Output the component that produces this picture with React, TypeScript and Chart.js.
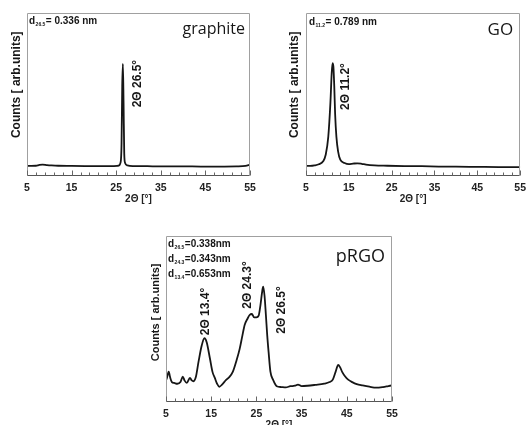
import React, { useEffect, useRef } from "react";
import { Chart, registerables } from "chart.js";
Chart.register(...registerables);

// ---------- data ----------
const xTicks = [5, 15, 25, 35, 45, 55];
const xMinorStep = 2;

const graphiteX = [5, 6, 7, 7.8, 8.5, 9.5, 10.5, 12, 15, 18, 21, 24, 25.5, 26.0, 26.2, 26.35, 26.5, 26.65, 26.8, 27.0, 27.5, 29, 32, 36, 40, 44, 48, 52, 54, 55];
const graphiteY = [6.3, 6.2, 6.3, 6.8, 7.0, 6.7, 6.5, 6.3, 6.2, 6.1, 6.0, 6.0, 6.3, 8.5, 20, 55, 68.7, 45, 14, 8, 6.5, 6.1, 6.0, 5.9, 5.9, 5.8, 5.8, 5.9, 6.2, 7.0];

const goX = [5, 6, 7, 8, 9, 9.6, 10.2, 10.7, 11.0, 11.2, 11.4, 11.6, 11.8, 12.1, 12.5, 13, 14, 15, 16, 17, 18, 19, 21, 24, 28, 32, 36, 40, 45, 50, 55];
const goY = [6.2, 6.2, 6.5, 7.2, 9, 13, 24, 45, 63, 69.3, 67, 55, 38, 24, 15, 10, 8, 7.3, 7.6, 7.8, 7.5, 7.0, 6.5, 6.3, 6.1, 6.0, 5.8, 5.7, 5.6, 5.5, 5.5];

const prgoX = [5.0, 5.2, 5.6, 5.9, 6.3, 6.8, 7.5, 8.2, 8.7, 9.1, 9.6, 10.3, 10.7, 11.1, 11.6, 12.2, 12.9, 13.5, 14.0, 14.7, 15.3, 15.8, 16.3, 16.8, 17.4, 18.3, 19.0, 19.8, 20.6, 21.3, 21.9, 22.4, 23.0, 23.5, 24.0, 24.5, 25.0, 25.5, 25.9, 26.3, 26.5, 26.8, 27.1, 27.4, 27.7, 28.1, 28.7, 29.5, 30.5, 31.5, 32.5, 33.5, 34.2, 35, 36.3, 38, 40, 41.2, 41.9, 42.5, 43.1, 43.5, 44.0, 44.6, 45.3, 46.2, 47.2, 48.5, 50, 51.5, 53, 54.2, 55];
const prgoY = [13, 14.5, 18.3, 15, 12, 11.5, 11, 12, 15.3, 13, 11.5, 14.5, 13, 12.5, 15, 24.3, 34, 38.4, 36, 26.5, 18, 14.5, 11, 9.2, 10.5, 13.3, 15, 18.3, 25, 32, 40, 46.4, 50, 52.4, 53, 51, 51, 52, 58.4, 67, 69.5, 64, 52.4, 40, 30, 18.3, 13.3, 9.5, 9, 8.8, 9.5, 9.8, 10.5, 9.6, 9.8, 10.3, 11, 12, 13.5, 18, 22.3, 21, 18, 15.5, 13.5, 12, 10.8, 10, 9.2, 8.6, 9, 9.6, 10];

const graphitePeaks = [{ text: "2Θ 26.5°", x: 29.9, y: 56.7 }];
const goPeaks = [{ text: "2Θ 11.2°", x: 14.3, y: 54.9 }];
const prgoPeaks = [
  { text: "2Θ 13.4°", x: 13.8, y: 54.5 },
  { text: "2Θ 24.3°", x: 23.1, y: 70.5 },
  { text: "2Θ 26.5°", x: 30.7, y: 55.4 },
];

const graphiteD = [{ sub: "26.5", val: "= 0.336 nm" }];
const goD = [{ sub: "11.2", val: "= 0.789 nm" }];
const prgoD = [
  { sub: "26.5", val: "=0.338nm" },
  { sub: "24.3", val: "=0.343nm" },
  { sub: "13.4", val: "=0.653nm" },
];

const yTitleText = "Counts [ arb.units]";
const xTitleText = "2Θ [°]";

// ---------- styling ----------
const ARIAL = '"Liberation Sans", Arial, sans-serif';
const SANS = '"Open Sans", "Noto Sans", sans-serif';
const INK = "#161616";

interface PanelCfg {
  id: string;
  left: number; top: number; width: number; height: number;
  pad: { top: number; right: number; left: number; bottom: number };
  yW: number; xH: number; xTitlePad: number;
  xs: number[]; ys: number[];
  name: string; nameSize: number; nameDx: number; nameDy: number;
  dLines: { sub: string; val: string }[]; dDx: number; dDy: number; dStep: number;
  peaks: { text: string; x: number; y: number }[];
  yTitleDx: number; yTitleFrac: number; yTitleSize: number;
}

function makeDecor(cfg: PanelCfg) {
  return {
    id: "decor_" + cfg.id,
    afterDatasetsDraw(chart: any) {
      const { ctx, chartArea: a, scales } = chart;
      const xs = scales.x;
      ctx.save();
      // frame
      ctx.lineWidth = 1;
      ctx.strokeStyle = "#a0a0a0";
      const L = Math.round(a.left) + 0.5, T = Math.round(a.top) + 0.5;
      const R = Math.round(a.right) - 0.5, B = Math.round(a.bottom) - 0.5;
      ctx.beginPath();
      ctx.moveTo(L, B); ctx.lineTo(L, T); ctx.lineTo(R, T); ctx.lineTo(R, B);
      ctx.stroke();
      ctx.strokeStyle = "#555";
      ctx.beginPath(); ctx.moveTo(L, B); ctx.lineTo(R, B); ctx.stroke();
      // ticks inside
      ctx.strokeStyle = "#666";
      for (let v = xTicks[0]; v <= xTicks[xTicks.length - 1] + 1e-9; v += xMinorStep) {
        const px = Math.round(xs.getPixelForValue(v)) + 0.5;
        const major = xTicks.includes(v);
        ctx.beginPath(); ctx.moveTo(px, B); ctx.lineTo(px, B - (major ? 5 : 3)); ctx.stroke();
      }
      ctx.fillStyle = INK;
      // name
      ctx.font = `${cfg.nameSize}px ${SANS}`;
      ctx.textAlign = "right";
      ctx.textBaseline = "alphabetic";
      ctx.fillText(cfg.name, a.right - cfg.nameDx, a.top + cfg.nameDy);
      // d labels
      ctx.textAlign = "left";
      cfg.dLines.forEach((d, i) => {
        const x0 = a.left + cfg.dDx;
        const y = a.top + cfg.dDy + i * cfg.dStep;
        ctx.font = `bold 10px ${ARIAL}`;
        ctx.fillText("d", x0, y);
        const w1 = ctx.measureText("d").width;
        ctx.font = `bold 5px ${ARIAL}`;
        ctx.fillText(d.sub, x0 + w1 + 0.5, y + 2);
        const w2 = ctx.measureText(d.sub).width;
        ctx.font = `bold 10px ${ARIAL}`;
        ctx.fillText(d.val, x0 + w1 + w2 + 1, y);
      });
      // peak labels
      ctx.font = `bold 12px ${ARIAL}`;
      ctx.textAlign = "center";
      ctx.textBaseline = "middle";
      cfg.peaks.forEach((p) => {
        const px = xs.getPixelForValue(p.x);
        const py = scales.y.getPixelForValue(p.y);
        ctx.save();
        ctx.translate(px, py);
        ctx.rotate(-Math.PI / 2);
        ctx.fillText(p.text, 0, 0);
        ctx.restore();
      });
      // y title
      ctx.font = `bold ${cfg.yTitleSize}px ${ARIAL}`;
      ctx.save();
      ctx.translate(a.left - cfg.yTitleDx, a.top + (a.bottom - a.top) * cfg.yTitleFrac);
      ctx.rotate(-Math.PI / 2);
      ctx.fillText(yTitleText, 0, 0);
      ctx.restore();
      ctx.restore();
    },
  };
}

const panels: PanelCfg[] = [
  {
    id: "graphite", left: 0, top: 0, width: 262, height: 212,
    pad: { top: 13, right: 12, left: 0, bottom: 0 }, yW: 27, xH: 36, xTitlePad: 7,
    xs: graphiteX, ys: graphiteY,
    name: "graphite", nameSize: 16, nameDx: 5, nameDy: 21,
    dLines: graphiteD, dDx: 2, dDy: 11, dStep: 15,
    peaks: graphitePeaks,
    yTitleDx: 10, yTitleFrac: 0.44, yTitleSize: 12,
  },
  {
    id: "go", left: 266, top: 0, width: 266, height: 212,
    pad: { top: 13, right: 1, left: 0, bottom: 0 }, yW: 40, xH: 36, xTitlePad: 7,
    xs: goX, ys: goY,
    name: "GO", nameSize: 17, nameDx: 7, nameDy: 22,
    dLines: goD, dDx: 3, dDy: 12, dStep: 15,
    peaks: goPeaks,
    yTitleDx: 11, yTitleFrac: 0.44, yTitleSize: 12,
  },
  {
    id: "prgo", left: 140, top: 220, width: 265, height: 212,
    pad: { top: 16, right: 13, left: 0, bottom: 0 }, yW: 26, xH: 30, xTitlePad: 1,
    xs: prgoX, ys: prgoY,
    name: "pRGO", nameSize: 18, nameDx: 7, nameDy: 26,
    dLines: prgoD, dDx: 2, dDy: 11, dStep: 15,
    peaks: prgoPeaks,
    yTitleDx: 10, yTitleFrac: 0.46, yTitleSize: 11,
  },
];

function Panel({ cfg }: { cfg: PanelCfg }) {
  const ref = useRef<HTMLCanvasElement>(null);
  useEffect(() => {
    const chart = new Chart(ref.current as HTMLCanvasElement, {
      type: "line",
      data: {
        datasets: [
          {
            data: cfg.xs.map((x, i) => ({ x, y: cfg.ys[i] })),
            borderColor: INK,
            borderWidth: 1.8,
            pointRadius: 0,
            cubicInterpolationMode: "monotone",
            fill: false,
          },
        ],
      },
      options: {
        animation: false,
        responsive: false,
        devicePixelRatio: 1,
        events: [],
        layout: { padding: cfg.pad },
        plugins: { legend: { display: false }, tooltip: { enabled: false } },
        scales: {
          x: {
            type: "linear",
            min: 5,
            max: 55,
            afterBuildTicks: (s: any) => { s.ticks = xTicks.map((v) => ({ value: v })); },
            afterFit: (s: any) => { s.height = cfg.xH; },
            grid: { display: false, drawTicks: false },
            border: { display: false },
            ticks: { padding: 6, color: "#222", autoSkip: false, maxRotation: 0, font: { family: ARIAL, size: 10.5, weight: "bold" } },
            title: { display: true, text: xTitleText, color: "#222", font: { family: ARIAL, size: 10, weight: "bold" }, padding: { top: 0, bottom: cfg.xTitlePad } },
          },
          y: {
            type: "linear",
            min: 0,
            max: 100,
            afterFit: (s: any) => { s.width = cfg.yW; },
            grid: { display: false, drawTicks: false },
            border: { display: false },
            ticks: { display: false },
          },
        },
      } as any,
      plugins: [makeDecor(cfg)],
    });
    return () => chart.destroy();
  }, []);
  return (
    <div style={{ position: "absolute", left: cfg.left, top: cfg.top, width: cfg.width, height: cfg.height }}>
      <canvas ref={ref} width={cfg.width} height={cfg.height} style={{ display: "block" }} />
    </div>
  );
}

export default function App() {
  useEffect(() => {
    document.body.style.margin = "0";
    document.body.style.background = "#fff";
  }, []);
  return (
    <div style={{ position: "relative", width: 532, height: 425, overflow: "hidden", background: "#fff" }}>
      {panels.map((p) => (
        <Panel key={p.id} cfg={p} />
      ))}
    </div>
  );
}
